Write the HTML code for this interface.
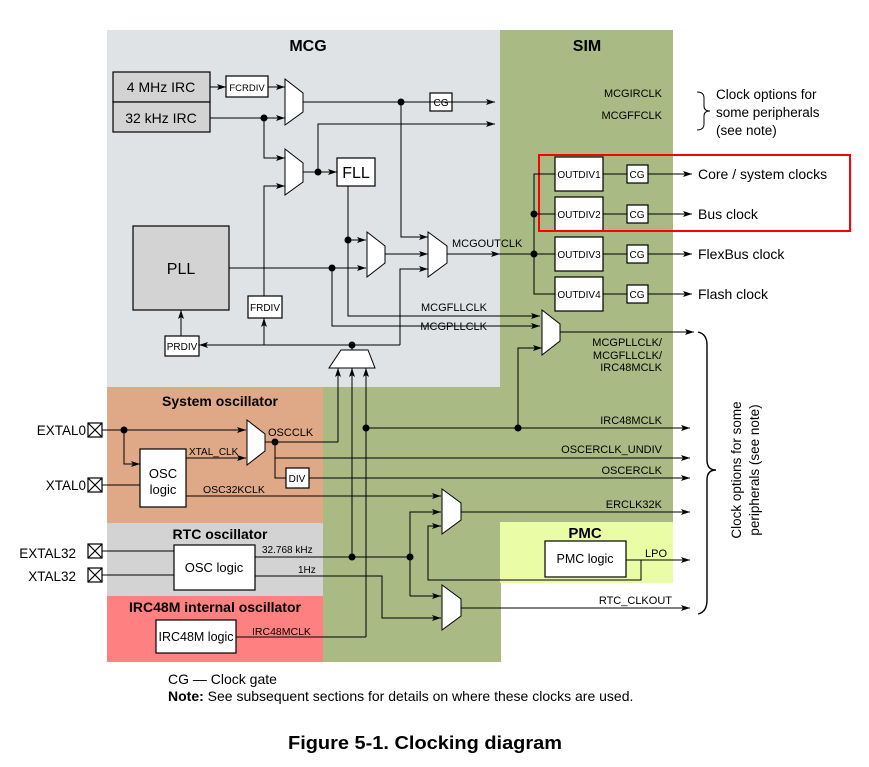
<!DOCTYPE html>
<html><head><meta charset="utf-8"><style>
html,body{margin:0;padding:0;background:#fff;}
svg{display:block;font-family:"Liberation Sans",Arial,sans-serif;}
</style></head><body>
<svg width="869" height="767" viewBox="0 0 869 767" xmlns="http://www.w3.org/2000/svg">
<defs>
<marker id="a" markerWidth="10" markerHeight="8" refX="9" refY="4" orient="auto" markerUnits="userSpaceOnUse">
<path d="M0,1 L9,4 L0,7 L2,4 Z" fill="#000"/></marker>
</defs>
<rect x="107" y="30" width="393" height="357" fill="#e0e3e5"/>
<rect x="500" y="30" width="173" height="492" fill="#a9ba84"/>
<rect x="323" y="387" width="178" height="275" fill="#a9ba84"/>
<rect x="107" y="387" width="216" height="136" fill="#dfa987"/>
<rect x="107" y="523" width="216" height="73" fill="#d3d3d3"/>
<rect x="107" y="596" width="216" height="66" fill="#fe8080"/>
<rect x="500" y="522" width="173" height="61" fill="#ebfca6"/>

<g font-weight="bold" font-size="16" text-anchor="middle">
<text x="308" y="51">MCG</text>
<text x="587" y="51">SIM</text>
<text x="585" y="538" font-size="15">PMC</text>
<text x="220" y="406" font-size="14">System oscillator</text>
<text x="220" y="539" font-size="14">RTC oscillator</text>
<text x="215" y="612" font-size="14">IRC48M internal oscillator</text>
</g>

<g fill="none" stroke="#000" stroke-width="1.2">
<rect x="113" y="72" width="97" height="30" fill="#d3d3d3"/>
<rect x="113" y="102" width="97" height="30" fill="#d3d3d3"/>
<rect x="226" y="76" width="42" height="21" fill="#fff"/>
<rect x="337" y="158" width="38" height="28" fill="#fff"/>
<rect x="133" y="226" width="96" height="84" fill="#d3d3d3"/>
<rect x="248" y="296" width="34" height="22" fill="#fff"/>
<rect x="165" y="336" width="34" height="20" fill="#fff"/>
<rect x="430" y="93" width="22" height="18" fill="#fff"/>
<rect x="555" y="157" width="48" height="34" fill="#fff"/>
<rect x="555" y="197" width="48" height="34" fill="#fff"/>
<rect x="555" y="237" width="48" height="34" fill="#fff"/>
<rect x="555" y="277" width="48" height="34" fill="#fff"/>
<rect x="627" y="165" width="21" height="18" fill="#fff"/>
<rect x="627" y="205" width="21" height="18" fill="#fff"/>
<rect x="627" y="245" width="21" height="18" fill="#fff"/>
<rect x="627" y="285" width="21" height="18" fill="#fff"/>
<rect x="140" y="449" width="46" height="58" fill="#fff"/>
<rect x="286" y="468" width="23" height="20" fill="#fff"/>
<rect x="174" y="545" width="81" height="45" fill="#fff"/>
<rect x="156" y="620" width="80" height="33" fill="#fff"/>
<rect x="545" y="541" width="81" height="36" fill="#fff"/>
<rect x="88" y="423" width="14" height="14" fill="#fff"/><path d="M88,423 L102,437 M102,423 L88,437"/>
<rect x="88" y="478" width="14" height="14" fill="#fff"/><path d="M88,478 L102,492 M102,478 L88,492"/>
<rect x="88" y="544" width="14" height="14" fill="#fff"/><path d="M88,544 L102,558 M102,544 L88,558"/>
<rect x="88" y="568" width="14" height="14" fill="#fff"/><path d="M88,568 L102,582 M102,568 L88,582"/>
<rect x="539" y="155" width="311" height="76" stroke="#f00" stroke-width="2"/>
</g>

<g fill="#fff" stroke="#000" stroke-width="1">
<path d="M285,79 L303,93 L303,112 L285,125 Z"/>
<path d="M285,149 L303,163 L303,182 L285,195 Z"/>
<path d="M367,232 L385,246 L385,263 L367,277 Z"/>
<path d="M428,232 L447,246 L447,263 L428,277 Z"/>
<path d="M542,310 L560,324 L560,341 L542,355 Z"/>
<path d="M247,420 L265,434 L265,451 L247,465 Z"/>
<path d="M442,489 L461,503 L461,520 L442,534 Z"/>
<path d="M442,585 L461,599 L461,616 L442,630 Z"/>
<path d="M341,350 L368,350 L375,368 L329,368 Z"/>
</g>

<g fill="none" stroke="#000" stroke-width="1">
<path d="M210,87 H226" marker-end="url(#a)"/>
<path d="M268,87 H285" marker-end="url(#a)"/>
<path d="M210,118 H285" marker-end="url(#a)"/>
<path d="M303,102 H495" marker-end="url(#a)"/>
<path d="M401,102 V237 H428" marker-end="url(#a)"/>
<path d="M264,118 V158 H285" marker-end="url(#a)"/>
<path d="M264,296 V186 H285" marker-end="url(#a)"/>
<path d="M303,172 H337" marker-end="url(#a)"/>
<path d="M318,172 V124 H495" marker-end="url(#a)"/>
<path d="M348,186 V316 H540" marker-end="url(#a)"/>
<path d="M348,240 H366" marker-end="url(#a)"/>
<path d="M229,268 H366" marker-end="url(#a)"/>
<path d="M332,268 V326 H540" marker-end="url(#a)"/>
<path d="M385,254 H428" marker-end="url(#a)"/>
<path d="M400,345 V269 H428" marker-end="url(#a)"/>
<path d="M447,254 H500" marker-end="url(#a)"/>
<path d="M400,345 H199" marker-end="url(#a)"/>
<path d="M264,345 V318" marker-end="url(#a)"/>
<path d="M181,336 V310" marker-end="url(#a)"/>
<path d="M352,345 V350"/>
<path d="M500,254 H534"/>
<path d="M555,174 H534 V294 H555"/>
<path d="M534,214 H555"/>
<path d="M534,254 H555"/>
<path d="M603,174 H627 M603,214 H627 M603,254 H627 M603,294 H627"/>
<path d="M648,174 H692" marker-end="url(#a)"/>
<path d="M648,214 H692" marker-end="url(#a)"/>
<path d="M648,254 H692" marker-end="url(#a)"/>
<path d="M648,294 H692" marker-end="url(#a)"/>
<path d="M560,332 H694" marker-end="url(#a)"/>
<path d="M518,428 V348 H542" marker-end="url(#a)"/>
<path d="M338,442 V368" marker-end="url(#a)"/>
<path d="M352,557 V368" marker-end="url(#a)"/>
<path d="M366,637 V368" marker-end="url(#a)"/>
<path d="M275,442 H338"/>
<path d="M366,428 H690" marker-end="url(#a)"/>
<path d="M102,430 H246" marker-end="url(#a)"/>
<path d="M124,430 V464 H140" marker-end="url(#a)"/>
<path d="M102,485 H140"/>
<path d="M186,458 H246" marker-end="url(#a)"/>
<path d="M265,442 H275"/>
<path d="M275,442 V478 H286"/>
<path d="M275,458 H690" marker-end="url(#a)"/>
<path d="M309,478 H690" marker-end="url(#a)"/>
<path d="M186,496 H441" marker-end="url(#a)"/>
<path d="M461,512 H690" marker-end="url(#a)"/>
<path d="M102,551 H174 M102,575 H174"/>
<path d="M255,557 H410"/>
<path d="M410,596 V512 H441" marker-end="url(#a)"/>
<path d="M410,596 H441" marker-end="url(#a)"/>
<path d="M255,576 H382 V618 H441" marker-end="url(#a)"/>
<path d="M236,637 H366"/>
<path d="M626,560 H690" marker-end="url(#a)"/>
<path d="M641,560 V580 H428 V526 H441" marker-end="url(#a)"/>
<path d="M461,608 H690" marker-end="url(#a)"/>
<path d="M697,92 Q704,92 704,98 V106 Q704,111 710,111 Q704,111 704,116 V124 Q704,130 697,130"/>
<path d="M698,332 Q707,334 707,345 V460 Q707,470 716,470 Q707,470 707,480 V600 Q707,612 698,614" stroke-width="1.4"/>
</g>

<g fill="#000">
<circle cx="264" cy="118" r="3.5"/><circle cx="401" cy="102" r="3.5"/>
<circle cx="318" cy="172" r="3.5"/><circle cx="348" cy="240" r="3.5"/>
<circle cx="332" cy="268" r="3.5"/><circle cx="352" cy="345" r="3.5"/>
<circle cx="534" cy="214" r="3.5"/><circle cx="534" cy="254" r="3.5"/>
<circle cx="518" cy="428" r="3.5"/><circle cx="366" cy="428" r="3.5"/>
<circle cx="124" cy="430" r="3.5"/><circle cx="275" cy="442" r="3.5"/>
<circle cx="352" cy="557" r="3.5"/><circle cx="410" cy="557" r="3.5"/>
</g>

<g font-size="14" text-anchor="middle">
<text x="161" y="92">4 MHz IRC</text>
<text x="161" y="123">32 kHz IRC</text>
<text x="356" y="178" font-size="16">FLL</text>
<text x="181" y="274" font-size="16">PLL</text>
</g>
<g font-size="10" text-anchor="middle">
<text x="247" y="91" font-size="9.5">FCRDIV</text>
<text x="265" y="311">FRDIV</text>
<text x="182" y="350">PRDIV</text>
<text x="441" y="106">CG</text>
<text x="579" y="178">OUTDIV1</text>
<text x="579" y="218">OUTDIV2</text>
<text x="579" y="258">OUTDIV3</text>
<text x="579" y="298">OUTDIV4</text>
<text x="637" y="178">CG</text><text x="637" y="218">CG</text>
<text x="637" y="258">CG</text><text x="637" y="298">CG</text>
<text x="297" y="482">DIV</text>
</g>
<g font-size="11">
<text x="452" y="247">MCGOUTCLK</text>
<text x="268" y="436">OSCCLK</text>
<text x="189" y="455" font-size="10">XTAL_CLK</text>
<text x="203" y="493" font-size="10.5">OSC32KCLK</text>
<text x="252" y="635" font-size="10.5">IRC48MCLK</text>
<text x="262" y="553" font-size="10">32.768 kHz</text>
<text x="298" y="573" font-size="10">1Hz</text>
<text x="645" y="557">LPO</text>
</g>
<g font-size="11" text-anchor="end">
<text x="662" y="97">MCGIRCLK</text>
<text x="662" y="119">MCGFFCLK</text>
<text x="487" y="311">MCGFLLCLK</text>
<text x="487" y="330">MCGPLLCLK</text>
<text x="662" y="346">MCGPLLCLK/</text>
<text x="662" y="359">MCGFLLCLK/</text>
<text x="662" y="371">IRC48MCLK</text>
<text x="662" y="424">IRC48MCLK</text>
<text x="662" y="453">OSCERCLK_UNDIV</text>
<text x="662" y="474">OSCERCLK</text>
<text x="662" y="508">ERCLK32K</text>
<text x="672" y="604">RTC_CLKOUT</text>
</g>
<g font-size="14">
<text x="86" y="435" text-anchor="end" font-size="13.5">EXTAL0</text>
<text x="86" y="490" text-anchor="end" font-size="13.5">XTAL0</text>
<text x="76" y="558" text-anchor="end" font-size="13.5">EXTAL32</text>
<text x="76" y="581" text-anchor="end" font-size="13.5">XTAL32</text>
<text x="163" y="478" text-anchor="middle" font-size="13">OSC</text>
<text x="163" y="494" text-anchor="middle" font-size="13">logic</text>
<text x="214" y="572" text-anchor="middle" font-size="13">OSC logic</text>
<text x="196" y="641" text-anchor="middle" font-size="12.5">IRC48M logic</text>
<text x="585" y="563" text-anchor="middle" font-size="12.5">PMC logic</text>
<text x="698" y="179">Core / system clocks</text>
<text x="698" y="219">Bus clock</text>
<text x="698" y="259">FlexBus clock</text>
<text x="698" y="299">Flash clock</text>
<text x="716" y="99" font-size="13.5">Clock options for</text>
<text x="716" y="117" font-size="13.5">some peripherals</text>
<text x="716" y="135" font-size="13.5">(see note)</text>
</g>
<g font-size="13.5" text-anchor="middle">
<text transform="translate(741,470) rotate(-90)">Clock options for some</text>
<text transform="translate(759,470) rotate(-90)">peripherals (see note)</text>
</g>
<text x="168" y="684" font-size="14">CG — Clock gate</text>
<text x="168" y="701" font-size="14"><tspan font-weight="bold">Note:</tspan> See subsequent sections for details on where these clocks are used.</text>
<text x="425" y="749" font-size="18" font-weight="bold" text-anchor="middle" textLength="274" lengthAdjust="spacingAndGlyphs">Figure 5-1. Clocking diagram</text>
</svg>
</body></html>
